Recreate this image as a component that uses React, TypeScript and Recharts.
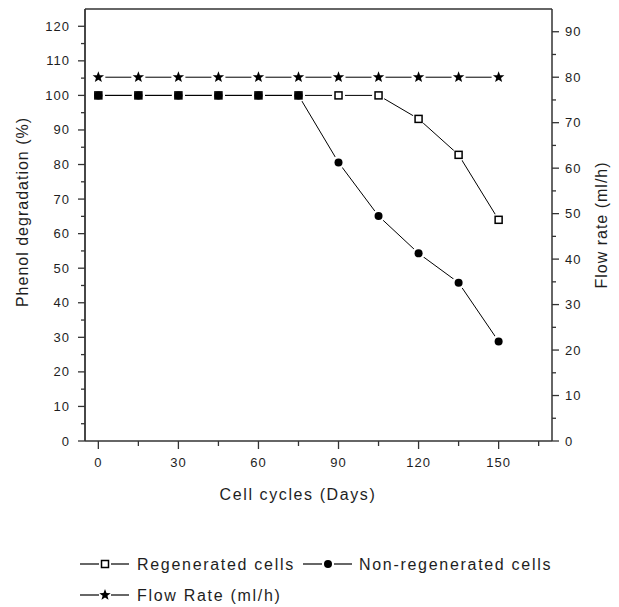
import React from "react";
import { Label, Legend, Line, LineChart, ReferenceLine, XAxis, YAxis } from "recharts";

// cell cycle day for each measurement
const days = [0, 15, 30, 45, 60, 75, 90, 105, 120, 135, 150];
// phenol degradation (%), left axis
const regenerated = [100, 100, 100, 100, 100, 100, 100, 100, 93.2, 82.8, 64];
const nonRegenerated = [100, 100, 100, 100, 100, 100, 80.6, 65.1, 54.3, 45.8, 28.8];
// flow rate (ml/h), right axis
const flowRate = [80, 80, 80, 80, 80, 80, 80, 80, 80, 80, 80];

const xTicks = [0, 15, 30, 45, 60, 75, 90, 105, 120, 135, 150, 165];
const leftTicks = [0, 5, 10, 15, 20, 25, 30, 35, 40, 45, 50, 55, 60, 65, 70, 75, 80, 85, 90, 95, 100, 105, 110, 115, 120];
const rightTicks = [0, 5, 10, 15, 20, 25, 30, 35, 40, 45, 50, 55, 60, 65, 70, 75, 80, 85, 90];

const seriesNames = ["Regenerated cells", "Non-regenerated cells", "Flow Rate (ml/h)"];

const data = days.map((d, i) => ({
  day: d,
  regen: regenerated[i],
  nonRegen: nonRegenerated[i],
  flow: flowRate[i],
}));

type Kind = "square" | "circle" | "star";

const series: { key: string; axis: string; kind: Kind; halo: number }[] = [
  { key: "regen", axis: "left", kind: "square", halo: 6.5 },
  { key: "nonRegen", axis: "left", kind: "circle", halo: 6.5 },
  { key: "flow", axis: "right", kind: "star", halo: 7 },
];

const FONT = "'Liberation Sans', Arial, sans-serif";
const INK = "#1e1e1e";
const AXIS = "#333";

function starPath(cx: number, cy: number, outer: number, inner: number) {
  let d = "";
  for (let i = 0; i < 10; i++) {
    const r = i % 2 === 0 ? outer : inner;
    const a = -Math.PI / 2 + (i * Math.PI) / 5;
    d += `${i === 0 ? "M" : "L"}${cx + r * Math.cos(a)},${cy + r * Math.sin(a)}`;
  }
  return d + "Z";
}

function Marker({ kind, cx, cy }: { kind: Kind; cx: number; cy: number }) {
  if (kind === "square")
    return <rect x={cx - 3.5} y={cy - 3.5} width={7} height={7} fill="#fff" stroke="#000" strokeWidth={1.5} />;
  if (kind === "circle") return <circle cx={cx} cy={cy} r={4} fill="#000" />;
  return <path d={starPath(cx, cy, 6, 2.5)} fill="#000" />;
}

// major ticks carry a label, minor ticks are just shorter marks
function AxisTick(props: any) {
  const { x, y, payload, side } = props;
  const v = payload.value as number;
  const major = side === "bottom" ? v % 30 === 0 : v % 10 === 0;
  const len = side === "bottom" ? (major ? 8 : 5) : major ? 7 : 4;
  const textProps = { fontFamily: FONT, fontSize: 13, letterSpacing: 1, fill: INK };
  if (side === "left")
    return (
      <g>
        <line x1={x - len} y1={y} x2={x} y2={y} stroke={AXIS} strokeWidth={1.3} />
        {major && (
          <text x={x - 15} y={y} textAnchor="end" dominantBaseline="central" {...textProps}>
            {v}
          </text>
        )}
      </g>
    );
  if (side === "right")
    return (
      <g>
        <line x1={x} y1={y} x2={x + len} y2={y} stroke={AXIS} strokeWidth={1.3} />
        {major && (
          <text x={x + 13} y={y} textAnchor="start" dominantBaseline="central" {...textProps}>
            {v}
          </text>
        )}
      </g>
    );
  return (
    <g>
      <line x1={x} y1={y} x2={x} y2={y + len} stroke={AXIS} strokeWidth={1.3} />
      {major && (
        <text x={x} y={y + 25.5} textAnchor="middle" {...textProps}>
          {v}
        </text>
      )}
    </g>
  );
}

function Title({ x, y, angle, text, spacing }: { x: number; y: number; angle: number; text: string; spacing: number }) {
  return (
    <text
      x={x}
      y={y}
      transform={angle ? `rotate(${angle}, ${x}, ${y})` : undefined}
      textAnchor="middle"
      dominantBaseline="central"
      fontFamily={FONT}
      fontSize={16}
      letterSpacing={spacing}
      fill={INK}
    >
      {text}
    </text>
  );
}

function LegendSample({ x, y, kind }: { x: number; y: number; kind: Kind }) {
  const mid = x + 25;
  return (
    <g>
      <line x1={x} y1={y} x2={mid - 6} y2={y} stroke="#000" strokeWidth={1.2} />
      <line x1={mid + 6} y1={y} x2={x + 49} y2={y} stroke="#000" strokeWidth={1.2} />
      <Marker kind={kind} cx={mid} cy={y} />
    </g>
  );
}

function ChartLegend() {
  const textProps = { fontFamily: FONT, fontSize: 16, letterSpacing: 1.7, fill: INK, dominantBaseline: "central" as const };
  return (
    <svg width={619} height={60} style={{ display: "block" }}>
      <LegendSample x={80} y={18} kind="square" />
      <text x={137} y={18} {...textProps}>
        {seriesNames[0]}
      </text>
      <LegendSample x={303} y={18} kind="circle" />
      <text x={359} y={18} {...textProps}>
        {seriesNames[1]}
      </text>
      <LegendSample x={80} y={49} kind="star" />
      <text x={137} y={49} {...textProps}>
        {seriesNames[2]}
      </text>
    </svg>
  );
}

export default function App() {
  return (
    <div style={{ position: "absolute", left: 0, top: 0, width: 619, height: 607, background: "#fff" }}>
      <LineChart width={619} height={607} data={data} margin={{ top: 9, right: 0, left: 0, bottom: 46 }}>
        <XAxis
          dataKey="day"
          type="number"
          domain={[-5, 170]}
          ticks={xTicks}
          interval={0}
          height={60}
          tickSize={0}
          tickMargin={0}
          tickLine={false}
          axisLine={{ stroke: AXIS, strokeWidth: 1.5 }}
          tick={<AxisTick side="bottom" />}
        >
          <Label
            content={(p: any) => (
              <Title x={p.viewBox.x + 213} y={p.viewBox.y + 53} angle={0} spacing={1.6} text="Cell cycles (Days)" />
            )}
          />
        </XAxis>
        <YAxis
          yAxisId="left"
          orientation="left"
          type="number"
          domain={[0, 125]}
          ticks={leftTicks}
          interval={0}
          width={85}
          tickSize={0}
          tickMargin={0}
          tickLine={false}
          axisLine={{ stroke: AXIS, strokeWidth: 1.8 }}
          tick={<AxisTick side="left" />}
        >
          <Label
            content={(p: any) => (
              <Title x={p.viewBox.x + 22} y={p.viewBox.y + 203} angle={-90} spacing={1} text="Phenol degradation (%)" />
            )}
          />
        </YAxis>
        <YAxis
          yAxisId="right"
          orientation="right"
          type="number"
          domain={[0, 95]}
          ticks={rightTicks}
          interval={0}
          width={67}
          tickSize={0}
          tickMargin={0}
          tickLine={false}
          axisLine={{ stroke: AXIS, strokeWidth: 1.5 }}
          tick={<AxisTick side="right" />}
        >
          <Label
            content={(p: any) => (
              <Title x={p.viewBox.x + 49} y={p.viewBox.y + 216} angle={-90} spacing={1} text="Flow rate (ml/h)" />
            )}
          />
        </YAxis>
        <ReferenceLine yAxisId="left" y={125} stroke={AXIS} strokeWidth={1.5} />

        {/* connecting lines first, then white halos to open gaps, then markers on top */}
        {series.map((s) => (
          <Line
            key={`line-${s.key}`}
            yAxisId={s.axis}
            dataKey={s.key}
            type="linear"
            stroke="#000"
            strokeWidth={1}
            dot={false}
            activeDot={false}
            legendType="none"
            isAnimationActive={false}
          />
        ))}
        {series.map((s) => (
          <Line
            key={`halo-${s.key}`}
            yAxisId={s.axis}
            dataKey={s.key}
            stroke="none"
            dot={(p: any) => <circle key={`h-${s.key}-${p.index}`} cx={p.cx} cy={p.cy} r={s.halo} fill="#fff" />}
            activeDot={false}
            legendType="none"
            isAnimationActive={false}
          />
        ))}
        {series.map((s) => (
          <Line
            key={`mark-${s.key}`}
            yAxisId={s.axis}
            dataKey={s.key}
            stroke="none"
            dot={(p: any) => <Marker key={`m-${s.key}-${p.index}`} kind={s.kind} cx={p.cx} cy={p.cy} />}
            activeDot={false}
            legendType="none"
            isAnimationActive={false}
          />
        ))}

        <Legend
          content={() => <ChartLegend />}
          wrapperStyle={{ position: "absolute", top: 546, left: 0, width: 619, height: 60 }}
        />
      </LineChart>
    </div>
  );
}
